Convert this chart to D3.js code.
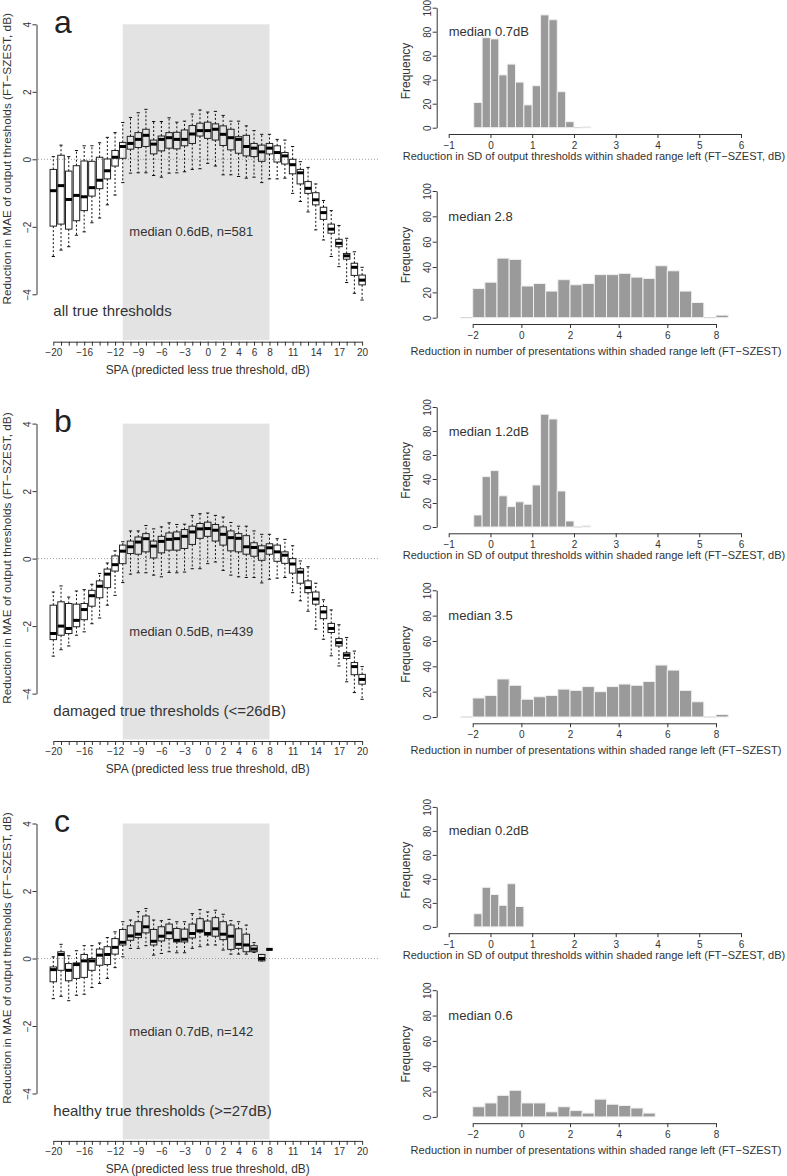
<!DOCTYPE html>
<html><head><meta charset="utf-8">
<script src="https://cdn.jsdelivr.net/npm/d3@7"></script>
<style>
body{margin:0;background:#fff;}
svg text{font-family:"Liberation Sans",Arial,Helvetica,sans-serif;fill:#333;}
</style></head><body>
<svg id="chart" width="787" height="1176"></svg>
<script>
// ---------- categories / ticks ----------
const spaValues = [-20,-19,-18,-17,-16,-15,-14,-13,-12,-11,-10,-9,-8,-7,-6,-5,-4,-3,-2,-1,0,1,2,3,4,5,6,7,8,9,10,11,12,13,14,15,16,17,18,19,20];
const spaTickLabels = [-20,-16,-12,-9,-6,-3,0,2,4,6,8,11,14,17,20];
const maeTicks = [-4,-2,0,2,4];
const shadedRange = [-11, 8];
const freqTicks = [0,20,40,60,80,100];
const sdTicks = [-1,0,1,2,3,4,5,6];
const presTicks = [-2,0,2,4,6,8];

// ---------- panel a: all true thresholds ----------
const aHigh   = [0.08,0.42,0.08,0.26,0.40,0.40,0.49,0.65,0.79,1.09,1.24,1.38,1.48,1.12,1.12,1.23,1.10,1.13,1.34,1.46,1.40,1.42,1.30,1.13,1.13,0.99,0.85,0.74,0.74,0.59,0.57,0.38,-0.07,-0.24,-0.73,-1.22,-1.52,-1.96,-2.34,-2.74,-3.20];
const aQ3     = [-0.30,0.12,-0.35,-0.19,-0.05,-0.06,0.06,0.01,0.26,0.50,0.68,0.79,0.89,0.57,0.69,0.79,0.80,0.87,1.00,1.07,1.10,1.05,0.99,0.89,0.67,0.71,0.47,0.42,0.47,0.40,0.20,0.00,-0.30,-0.66,-0.99,-1.42,-1.92,-2.37,-2.79,-3.08,-3.43];
const aMedian = [-0.93,-0.78,-1.19,-1.07,-1.11,-0.84,-0.62,-0.34,0.06,0.38,0.47,0.59,0.71,0.45,0.59,0.64,0.59,0.59,0.75,0.85,0.85,0.89,0.74,0.64,0.59,0.38,0.33,0.22,0.33,0.20,0.10,-0.16,-0.40,-0.86,-1.20,-1.58,-2.07,-2.49,-2.86,-3.20,-3.58];
const aQ1     = [-1.98,-1.92,-2.07,-1.82,-1.52,-1.09,-0.87,-0.58,-0.20,0.03,0.30,0.35,0.38,0.16,0.25,0.33,0.31,0.40,0.47,0.69,0.62,0.57,0.41,0.28,0.18,0.10,0.08,-0.06,0.16,-0.08,-0.14,-0.43,-0.73,-1.01,-1.35,-1.78,-2.19,-2.59,-2.96,-3.44,-3.72];
const aLow    = [-2.88,-2.69,-2.59,-2.25,-2.15,-1.88,-1.74,-1.35,-1.06,-0.69,-0.41,-0.40,-0.40,-0.48,-0.53,-0.41,-0.40,-0.37,-0.30,-0.28,-0.12,-0.20,-0.46,-0.46,-0.51,-0.56,-0.53,-0.69,-0.58,-0.58,-0.56,-1.01,-1.25,-1.56,-2.09,-2.39,-2.88,-3.18,-3.65,-3.97,-4.17];

// ---------- panel b: damaged true thresholds ----------
const bHigh   = [-0.99,-0.81,-1.14,-0.96,-0.92,-0.76,-0.44,-0.13,0.23,0.50,0.82,0.82,0.98,0.88,0.94,1.06,1.01,1.02,1.28,1.33,1.35,1.28,1.23,1.07,0.96,0.96,0.82,0.72,0.72,0.59,0.57,0.38,-0.07,-0.24,-0.73,-1.22,-1.52,-1.96,-2.34,-2.74,-3.20];
const bQ3     = [-1.38,-1.28,-1.33,-1.35,-1.33,-0.94,-0.66,-0.31,0.08,0.40,0.52,0.64,0.74,0.52,0.66,0.76,0.79,0.86,0.96,1.04,1.08,1.01,0.94,0.82,0.74,0.68,0.47,0.38,0.44,0.40,0.20,0.00,-0.30,-0.66,-0.99,-1.42,-1.92,-2.37,-2.79,-3.08,-3.43];
const bMedian = [-2.22,-2.00,-2.07,-1.83,-1.51,-1.10,-0.82,-0.46,-0.18,0.22,0.35,0.49,0.59,0.37,0.51,0.57,0.59,0.66,0.79,0.88,0.89,0.84,0.72,0.62,0.60,0.35,0.33,0.23,0.32,0.20,0.10,-0.16,-0.40,-0.86,-1.20,-1.58,-2.07,-2.49,-2.86,-3.20,-3.58];
const bQ1     = [-2.40,-2.27,-2.22,-2.02,-1.81,-1.41,-1.16,-0.86,-0.37,-0.15,0.15,0.13,0.20,0.02,0.17,0.25,0.25,0.30,0.42,0.60,0.66,0.52,0.40,0.23,0.20,0.13,0.07,-0.05,0.13,-0.08,-0.14,-0.43,-0.73,-1.01,-1.35,-1.78,-2.19,-2.59,-2.96,-3.44,-3.72];
const bLow    = [-2.89,-2.70,-2.59,-2.27,-2.17,-1.93,-1.76,-1.38,-1.09,-0.71,-0.46,-0.42,-0.42,-0.49,-0.54,-0.41,-0.42,-0.40,-0.30,-0.30,-0.15,-0.10,-0.35,-0.49,-0.54,-0.56,-0.56,-0.72,-0.61,-0.58,-0.56,-1.01,-1.25,-1.56,-2.09,-2.39,-2.88,-3.18,-3.65,-3.97,-4.17];

// ---------- panel c: healthy true thresholds (SPA -20..8 only) ----------
const cHigh   = [0.05,0.42,0.08,0.23,0.38,0.38,0.46,0.62,0.79,1.09,1.14,1.39,1.48,1.14,1.12,1.16,1.09,1.09,1.33,1.45,1.38,1.43,1.31,1.12,1.09,0.99,0.47,0.12,0.27];
const cQ3     = [-0.25,0.20,-0.15,-0.13,0.12,0.00,0.28,0.35,0.59,0.86,0.97,1.09,1.26,0.86,0.94,1.02,0.89,0.87,1.02,1.18,1.11,1.21,1.09,0.99,0.88,0.72,0.38,0.12,0.27];
const cMedian = [-0.33,0.12,-0.35,-0.18,-0.07,-0.07,0.10,0.12,0.33,0.48,0.67,0.72,0.94,0.51,0.66,0.76,0.54,0.57,0.74,0.82,0.74,0.88,0.72,0.66,0.42,0.40,0.28,0.00,0.27];
const cQ1     = [-0.69,-0.35,-0.66,-0.59,-0.56,-0.35,-0.20,-0.18,0.13,0.40,0.54,0.62,0.76,0.40,0.52,0.59,0.49,0.49,0.61,0.79,0.69,0.66,0.56,0.27,0.30,0.20,0.20,-0.07,0.27];
const cLow    = [-1.19,-1.12,-1.25,-1.09,-1.06,-0.86,-0.74,-0.59,-0.27,0.05,0.30,0.30,0.38,0.10,0.15,0.20,0.17,0.17,0.30,0.35,0.40,0.40,0.25,0.13,0.13,0.13,0.18,-0.07,0.27];

// ---------- histograms ----------
const sdBinStart = -0.4, sdBinWidth = 0.2;
const sdCountsA = [21,75,74,44,53,38,19,35,94,90,30,5,0,1];
const sdCountsB = [10,42,47,26,17,21,19,35,94,90,30,5,0,1];
const sdCountsC = [11,33,27,18,36,17];
const presBinWidth = 0.5;
const presBinStartA = -2.5, presBinStartB = -2.5, presBinStartC = -2;
const presCountsA = [0,23,28,47,46,25,27,21,30,26,27,34,34,35,32,31,41,37,21,12,0,2];
const presCountsB = [0,15,17,30,25,14,16,17,22,21,24,20,24,26,25,28,41,37,21,12,0,2];
const presCountsC = [8,11,17,21,11,11,4,8,5,3,14,10,9,7,3];

// ---------- texts ----------
const panelLetters = ["a","b","c"];
const boxMedianLabels = ["median 0.6dB, n=581","median 0.5dB, n=439","median 0.7dB, n=142"];
const groupLabels = ["all true thresholds","damaged true thresholds (<=26dB)","healthy true thresholds (>=27dB)"];
const sdMedianLabels = ["median 0.7dB","median 1.2dB","median 0.2dB"];
const presMedianLabels = ["median 2.8","median 3.5","median 0.6"];
const boxYLabel = "Reduction in MAE of output thresholds (FT\u2212SZEST, dB)";
const boxXLabel = "SPA (predicted less true threshold, dB)";
const sdXLabel = "Reduction in SD of output thresholds within shaded range left (FT\u2212SZEST, dB)";
const presXLabel = "Reduction in number of presentations within shaded range left (FT\u2212SZEST)";
const freqLabel = "Frequency";

const panels = [
  {box:{lo:aLow,q1:aQ1,med:aMedian,q3:aQ3,hi:aHigh}, sd:sdCountsA, pres:presCountsA, presStart:presBinStartA},
  {box:{lo:bLow,q1:bQ1,med:bMedian,q3:bQ3,hi:bHigh}, sd:sdCountsB, pres:presCountsB, presStart:presBinStartB},
  {box:{lo:cLow,q1:cQ1,med:cMedian,q3:cQ3,hi:cHigh}, sd:sdCountsC, pres:presCountsC, presStart:presBinStartC}
];
const panelOffsets = [0, 399.3, 799.2];

const fmt = d => d < 0 ? "\u2212" + Math.abs(d) : String(d);
const svg = d3.select("#chart");
const INK = "#333";

function styleAxis(g, fs){
  g.attr("font-family", null).attr("font-size", null);
  g.select(".domain").attr("stroke", INK).attr("stroke-width", 1);
  g.selectAll(".tick line").attr("stroke", INK).attr("stroke-width", 1);
  g.selectAll(".tick text").attr("font-size", fs).style("fill", INK);
}
function rotateYLabels(g, off){
  g.selectAll(".tick text")
    .attr("x", null).attr("dy", null).attr("y", null)
    .attr("text-anchor", "middle")
    .attr("transform", `translate(${-off},0) rotate(-90)`);
}

panels.forEach((p, pi) => {
  const dy = panelOffsets[pi];
  const g = svg.append("g");

  // ===== boxplot panel =====
  const x = d3.scaleLinear().domain([-20, 20]).range([53.3, 362.1]);
  const y = d3.scaleLinear().domain([-4, 4]).range([294.3 + dy, 24.3 + dy]);
  const axisY = 341.7 + dy;
  const step = x(1) - x(0);
  const bw = step * 0.84;

  g.append("rect")
    .attr("x", x(shadedRange[0])).attr("y", y(4))
    .attr("width", x(shadedRange[1]) - x(shadedRange[0]))
    .attr("height", axisY - 1.5 - y(4))
    .attr("fill", "#e3e3e3");

  g.append("line")
    .attr("x1", 38).attr("x2", 380).attr("y1", y(0)).attr("y2", y(0))
    .attr("stroke", "#888").attr("stroke-width", 0.8).attr("stroke-dasharray", "1,2");

  const boxes = spaValues.map((v, i) => ({v, lo:p.box.lo[i], q1:p.box.q1[i], med:p.box.med[i], q3:p.box.q3[i], hi:p.box.hi[i]}))
    .filter(d => d.med !== undefined && d.med !== null);

  const bg = g.append("g");
  boxes.forEach(d => {
    const cx = x(d.v);
    bg.append("line").attr("x1", cx).attr("x2", cx).attr("y1", y(d.q3)).attr("y2", y(d.hi))
      .attr("stroke", "#111").attr("stroke-width", 1).attr("stroke-dasharray", "2,2");
    bg.append("line").attr("x1", cx).attr("x2", cx).attr("y1", y(d.q1)).attr("y2", y(d.lo))
      .attr("stroke", "#111").attr("stroke-width", 1).attr("stroke-dasharray", "2,2");
    [d.hi, d.lo].forEach(s => {
      bg.append("line").attr("x1", cx - bw / 4).attr("x2", cx + bw / 4).attr("y1", y(s)).attr("y2", y(s))
        .attr("stroke", "#111").attr("stroke-width", 1);
    });
    bg.append("rect").attr("x", cx - bw / 2).attr("y", y(d.q3))
      .attr("width", bw).attr("height", Math.max(0, y(d.q1) - y(d.q3)))
      .attr("fill", "none").attr("stroke", "#222").attr("stroke-width", 1);
    bg.append("line").attr("x1", cx - bw / 2).attr("x2", cx + bw / 2).attr("y1", y(d.med)).attr("y2", y(d.med))
      .attr("stroke", "#000").attr("stroke-width", 3);
  });

  const xa = g.append("g").attr("transform", `translate(0,${axisY})`)
    .call(d3.axisBottom(x).tickValues(spaValues)
      .tickFormat(d => spaTickLabels.includes(d) ? fmt(d) : "")
      .tickSize(4).tickSizeOuter(0).tickPadding(3));
  styleAxis(xa, "10px");

  const ya = g.append("g").attr("transform", `translate(36.5,0)`)
    .call(d3.axisLeft(y).tickValues(maeTicks).tickFormat(fmt).tickSize(4).tickSizeOuter(0));
  styleAxis(ya, "10px");
  rotateYLabels(ya, 5.5);

  g.append("text").attr("transform", `translate(10.5,${y(0) - 0.5}) rotate(-90)`)
    .attr("text-anchor", "middle").attr("font-size", "11.8px").text(boxYLabel);
  g.append("text").attr("x", 207.7).attr("y", 374 + dy)
    .attr("text-anchor", "middle").attr("font-size", "11.9px").text(boxXLabel);

  g.append("text").attr("x", 54).attr("y", 33 + dy)
    .attr("font-size", "32px").style("font-weight", 300).style("fill", "#222").text(panelLetters[pi]);
  g.append("text").attr("x", x(-10.15)).attr("y", y(-2.15)).attr("dy", "0.35em")
    .attr("font-size", "13px").text(boxMedianLabels[pi]);
  g.append("text").attr("x", x(-20)).attr("y", y(-4.5)).attr("dy", "0.35em")
    .attr("font-size", "15px").text(groupLabels[pi]);

  // ===== SD histogram =====
  const hx = d3.scaleLinear().domain([-1, 6]).range([448.7, 741]);
  const hy = d3.scaleLinear().domain([0, 100]).range([127.7 + dy, 7.7 + dy]);
  drawHist(g, hx, hy, p.sd, sdBinStart, sdBinWidth);
  const hxa = g.append("g").attr("transform", `translate(0,${134 + dy})`)
    .call(d3.axisBottom(hx).tickValues(sdTicks).tickFormat(fmt).tickSize(4).tickSizeOuter(0).tickPadding(4));
  styleAxis(hxa, "10px");
  const hya = g.append("g").attr("transform", `translate(436.7,0)`)
    .call(d3.axisLeft(hy).tickValues(freqTicks).tickSize(4).tickSizeOuter(0));
  styleAxis(hya, "10px");
  rotateYLabels(hya, 5.5);
  g.append("text").attr("transform", `translate(410,${71 + dy}) rotate(-90)`)
    .attr("text-anchor", "middle").attr("font-size", "12px").text(freqLabel);
  g.append("text").attr("x", 594).attr("y", 160 + dy)
    .attr("text-anchor", "middle").attr("font-size", "11px").text(sdXLabel);
  g.append("text").attr("x", hx(-1)).attr("y", hy(80)).attr("dy", "0.35em")
    .attr("font-size", "13px").text(sdMedianLabels[pi]);

  // ===== presentations histogram =====
  const px = d3.scaleLinear().domain([-2, 8]).range([472.7, 716]);
  const py = d3.scaleLinear().domain([0, 100]).range([317.7 + dy, 191 + dy]);
  drawHist(g, px, py, p.pres, p.presStart, presBinWidth);
  const pxa = g.append("g").attr("transform", `translate(0,${324 + dy})`)
    .call(d3.axisBottom(px).tickValues(presTicks).tickFormat(fmt).tickSize(4).tickSizeOuter(0).tickPadding(4));
  styleAxis(pxa, "10px");
  const pya = g.append("g").attr("transform", `translate(436.7,0)`)
    .call(d3.axisLeft(py).tickValues(freqTicks).tickSize(4).tickSizeOuter(0));
  styleAxis(pya, "10px");
  rotateYLabels(pya, 5.5);
  g.append("text").attr("transform", `translate(410,${255 + dy}) rotate(-90)`)
    .attr("text-anchor", "middle").attr("font-size", "12px").text(freqLabel);
  g.append("text").attr("x", 596).attr("y", 355 + dy)
    .attr("text-anchor", "middle").attr("font-size", "11.1px").text(presXLabel);
  g.append("text").attr("x", px(-3)).attr("y", py(80)).attr("dy", "0.35em")
    .attr("font-size", "13px").text(presMedianLabels[pi]);
});

function drawHist(g, xs, ys, counts, start, width){
  const hg = g.append("g");
  counts.forEach((c, i) => {
    const x0 = xs(start + i * width), x1 = xs(start + (i + 1) * width);
    if (c === 0) {
      hg.append("line").attr("x1", x0).attr("x2", x1).attr("y1", ys(0)).attr("y2", ys(0))
        .attr("stroke", "#cfcfcf").attr("stroke-width", 1);
    } else {
      hg.append("rect").attr("x", x0).attr("y", ys(c))
        .attr("width", x1 - x0).attr("height", ys(0) - ys(c))
        .attr("fill", "#9a9a9a").attr("stroke", "#f0f0f0").attr("stroke-width", 1);
    }
  });
}
</script>
</body></html>
